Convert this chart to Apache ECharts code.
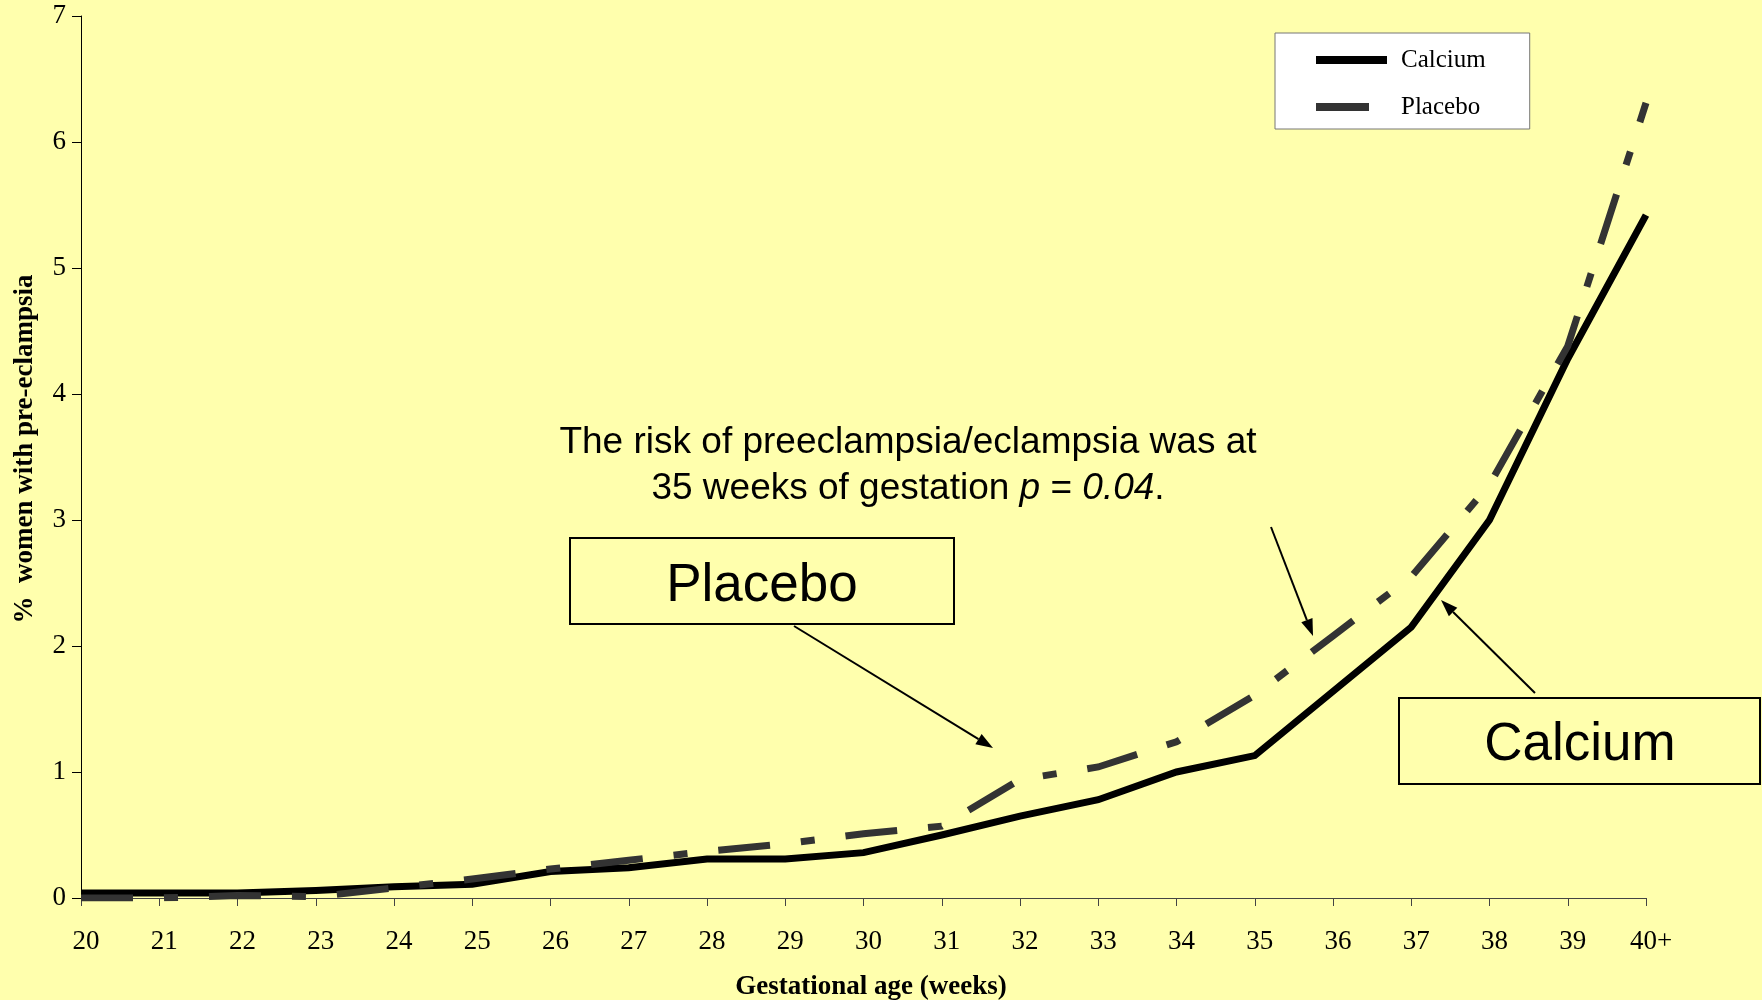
<!DOCTYPE html>
<html>
<head>
<meta charset="utf-8">
<script src="https://cdn.jsdelivr.net/npm/echarts@6/dist/echarts.min.js"></script>
<style>
  html, body { margin: 0; padding: 0; background: #FFFFAD; }
  #chart { width: 1762px; height: 1000px; }
</style>
</head>
<body>
<div id="chart"></div>
<script>
// ---- data ----
const weeks = ['20','21','22','23','24','25','26','27','28','29','30','31','32','33','34','35','36','37','38','39','40+'];
const calcium = [0.04,0.04,0.04,0.06,0.09,0.11,0.21,0.24,0.31,0.31,0.36,0.50,0.65,0.78,1.00,1.13,1.64,2.15,3.00,4.28,5.42];
const placebo = [0.00,0.00,0.02,0.01,0.08,0.15,0.23,0.30,0.37,0.43,0.51,0.57,0.94,1.04,1.24,1.61,2.08,2.55,3.28,4.38,6.31];
const yTicks = { min: 0, max: 7, interval: 1 };
const seriesNames = ['Calcium', 'Placebo'];
const xTitle = 'Gestational age (weeks)';
const yTitle = '%  women with pre-eclampsia';

const BG = '#FFFFAD';
const serif = "'Liberation Serif', 'DejaVu Serif', serif";
const sans = "'Liberation Sans', Arial, sans-serif";

function arrow(x1, y1, x2, y2) {
  const L = 17, W = 6;
  const dx = x2 - x1, dy = y2 - y1;
  const len = Math.sqrt(dx*dx + dy*dy);
  const ux = dx / len, uy = dy / len;
  const bx = x2 - ux * L, by = y2 - uy * L;
  return {
    type: 'group',
    children: [
      { type: 'line', shape: { x1: x1, y1: y1, x2: bx, y2: by }, style: { stroke: '#000', lineWidth: 2 } },
      { type: 'polygon', shape: { points: [[x2, y2], [bx - uy * W, by + ux * W], [bx + uy * W, by - ux * W]] }, style: { fill: '#000' } }
    ]
  };
}

const chart = echarts.init(document.getElementById('chart'));
chart.setOption({
  backgroundColor: BG,
  animation: false,
  grid: { left: 81, right: 116, top: 16, bottom: 102, containLabel: false, outerBoundsMode: 'none' },
  legend: {
    orient: 'vertical',
    left: 1275,
    top: 33,
    backgroundColor: '#FFFFFF',
    borderColor: '#777777',
    borderWidth: 1,
    padding: [12, 44, 7, 41],
    itemGap: 17,
    itemWidth: 71,
    itemHeight: 8,
    textStyle: { fontFamily: serif, fontSize: 25, color: '#000', lineHeight: 30, padding: [0, 0, 0, 9] },
    data: [
      { name: seriesNames[0], icon: 'rect' },
      { name: seriesNames[1], icon: 'path://M0,0H53V8H0ZM70.9,0H71V0.01H70.9Z' }
    ]
  },
  xAxis: {
    type: 'category',
    data: weeks,
    boundaryGap: false,
    name: xTitle,
    nameLocation: 'middle',
    nameGap: 76,
    nameTextStyle: { fontFamily: serif, fontSize: 27, fontWeight: 'bold', color: '#000', padding: [0, 0, 0, 15] },
    axisLine: { show: true, lineStyle: { color: '#444', width: 1 } },
    axisTick: { show: true, length: 8, inside: false, lineStyle: { color: '#444', width: 1 } },
    axisLabel: { fontFamily: serif, fontSize: 27, color: '#000', margin: 30, padding: [0, 0, 0, 10], interval: 0 },
    splitLine: { show: false }
  },
  yAxis: {
    type: 'value',
    min: yTicks.min,
    max: yTicks.max,
    interval: yTicks.interval,
    name: yTitle,
    nameLocation: 'middle',
    nameGap: 42,
    nameRotate: 90,
    nameTextStyle: { fontFamily: serif, fontSize: 27, fontWeight: 'bold', color: '#000', padding: [0, 0, 0, 16] },
    axisLine: { show: true, lineStyle: { color: '#000', width: 1 } },
    axisTick: { show: true, length: 9, inside: false, lineStyle: { color: '#000', width: 1 } },
    axisLabel: { fontFamily: serif, fontSize: 27, color: '#000', margin: 15 },
    splitLine: { show: false }
  },
  series: [
    {
      name: seriesNames[0],
      type: 'line',
      data: calcium,
      symbol: 'none',
      color: '#000000',
      lineStyle: { color: '#000000', width: 7, cap: 'butt', join: 'miter' },
      z: 2
    },
    {
      name: seriesNames[1],
      type: 'line',
      data: placebo,
      symbol: 'none',
      color: '#333333',
      lineStyle: { color: '#333333', width: 7, type: [52, 31, 14, 31], dashOffset: 0, cap: 'butt', join: 'miter' },
      z: 3
    }
  ],
  graphic: [
    {
      type: 'text', x: 908, y: 443,
      style: { text: 'The risk of preeclampsia/eclampsia was at', font: '37px ' + sans, fill: '#000', align: 'center', verticalAlign: 'middle' }
    },
    {
      type: 'text', x: 908, y: 489,
      style: {
        text: '{a|35 weeks of gestation }{i|p}{a| = }{i|0.04}{a|.}',
        align: 'center', verticalAlign: 'middle', fill: '#000',
        rich: {
          a: { fontFamily: sans, fontSize: 37, fill: '#000' },
          i: { fontFamily: sans, fontSize: 37, fontStyle: 'italic', fill: '#000' }
        }
      }
    },
    { type: 'rect', shape: { x: 570, y: 538, width: 384, height: 86 }, style: { fill: 'none', stroke: '#000', lineWidth: 2 } },
    {
      type: 'text', x: 762, y: 586,
      style: { text: 'Placebo', font: '53px ' + sans, fill: '#000', align: 'center', verticalAlign: 'middle' }
    },
    { type: 'rect', shape: { x: 1399, y: 698, width: 361, height: 86 }, style: { fill: 'none', stroke: '#000', lineWidth: 2 } },
    {
      type: 'text', x: 1580, y: 745,
      style: { text: 'Calcium', font: '53px ' + sans, fill: '#000', align: 'center', verticalAlign: 'middle' }
    },
    arrow(794, 626, 993, 748),
    arrow(1271, 527, 1313, 636),
    arrow(1535, 693, 1441, 600)
  ]
});
</script>
</body>
</html>
